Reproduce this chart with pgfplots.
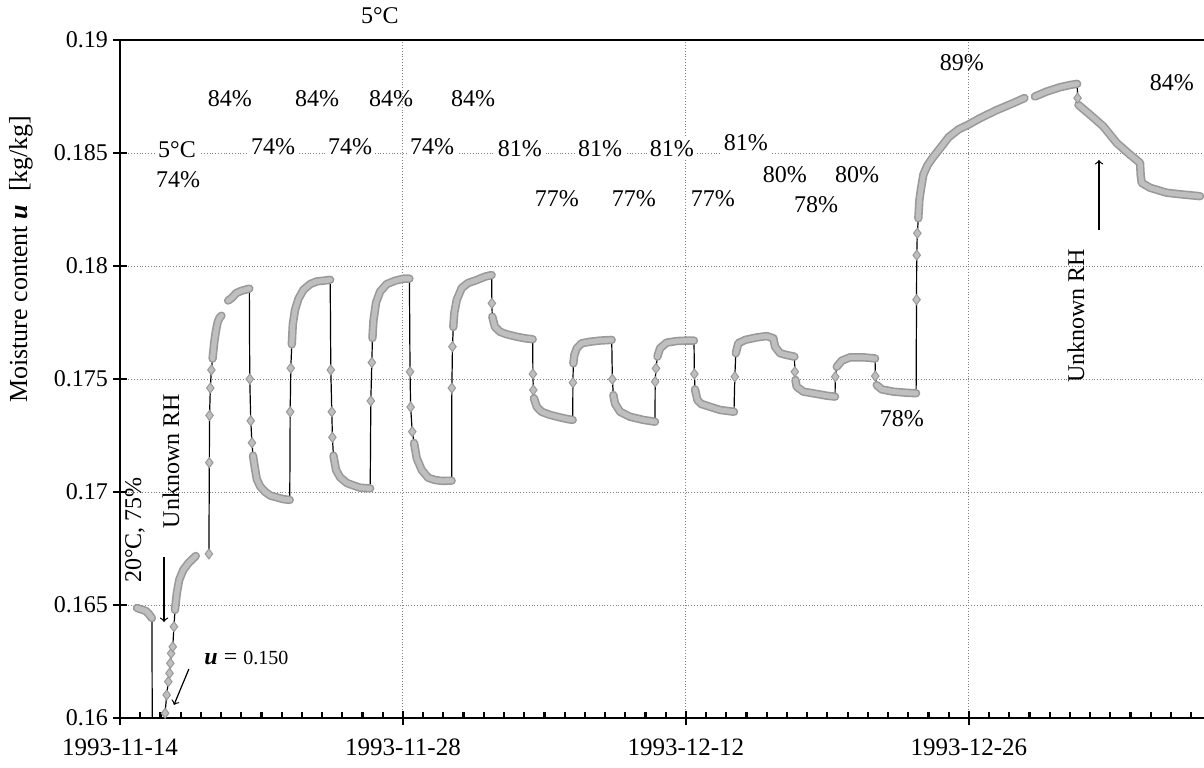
\documentclass[border=0pt]{standalone}
\usepackage{fontspec}
\setmainfont{Liberation Serif}
\usepackage{pgfplots}
\usepackage{pgfplotstable}
\pgfplotsset{compat=1.18}
\newcommand\fs{\fontsize{12}{14}\selectfont}
\tikzset{
  lab/.style={font=\fs, inner sep=1pt},
  labw/.style={font=\fs, inner sep=1.5pt, fill=white},
}
% day (0 = 1993-11-14), u, band value, marker value
\pgfplotstableread{
x y b m
0.84 0.16487 0.16487 nan
0.99 0.16482 0.16482 nan
1.14 0.16478 0.16478 nan
1.29 0.16473 0.16473 nan
1.43 0.16460 0.16460 nan
1.58 0.16442 0.16442 nan
1.63 0.150 nan nan
2.23 0.16021 nan 0.16021
2.31 0.16102 nan 0.16102
2.39 0.16161 nan 0.16161
2.45 0.16198 nan 0.16198
2.49 0.16242 nan 0.16242
2.53 0.16286 nan 0.16286
2.61 0.16315 nan 0.16315
2.67 0.16404 nan 0.16404
2.72 0.16478 0.16478 nan
2.81 0.16552 0.16552 nan
2.93 0.16611 0.16611 nan
3.13 0.16655 0.16655 nan
3.38 0.16685 0.16685 nan
3.75 0.16717 0.16717 nan
nan nan nan nan
4.40 0.16726 nan 0.16726
4.42 0.17130 nan 0.17130
4.43 0.17339 nan 0.17339
4.47 0.17460 nan 0.17460
4.52 0.17540 nan 0.17540
4.58 0.17590 0.17590 nan
4.66 0.17660 0.17660 nan
4.74 0.17710 0.17710 nan
4.83 0.17750 0.17750 nan
4.92 0.17770 0.17770 nan
5.02 0.17780 0.17780 nan
nan nan nan nan
5.35 0.17847 0.17847 nan
5.55 0.17860 0.17860 nan
5.75 0.17880 0.17880 nan
6.00 0.17890 0.17890 nan
6.20 0.17895 0.17895 nan
6.40 0.17900 0.17900 nan
6.42 0.17500 nan 0.17500
6.47 0.17315 nan 0.17315
6.53 0.17218 nan 0.17218
6.58 0.17161 0.17161 nan
6.69 0.17097 0.17097 nan
6.77 0.17056 0.17056 nan
6.94 0.17024 0.17024 nan
7.19 0.17000 0.17000 nan
7.44 0.16984 0.16984 nan
7.77 0.16976 0.16976 nan
8.10 0.16968 0.16968 nan
8.40 0.16965 0.16965 nan
8.42 0.17355 nan 0.17355
8.45 0.17548 nan 0.17548
8.50 0.17653 0.17653 nan
8.55 0.17742 0.17742 nan
8.66 0.17806 0.17806 nan
8.83 0.17855 0.17855 nan
9.08 0.17895 0.17895 nan
9.41 0.17920 0.17920 nan
9.74 0.17932 0.17932 nan
10.07 0.17935 0.17935 nan
10.40 0.17939 0.17939 nan
10.43 0.17540 nan 0.17540
10.48 0.17355 nan 0.17355
10.51 0.17242 nan 0.17242
10.56 0.17161 0.17161 nan
10.69 0.17097 0.17097 nan
10.89 0.17065 0.17065 nan
11.22 0.17040 0.17040 nan
11.55 0.17029 0.17029 nan
11.88 0.17019 0.17019 nan
12.38 0.17016 0.17016 nan
12.41 0.17403 nan 0.17403
12.46 0.17573 nan 0.17573
12.49 0.17681 0.17681 nan
12.54 0.17758 0.17758 nan
12.67 0.17839 0.17839 nan
12.87 0.17887 0.17887 nan
13.20 0.17920 0.17920 nan
13.61 0.17935 0.17935 nan
14.03 0.17944 0.17944 nan
14.32 0.17944 0.17944 nan
14.35 0.17532 nan 0.17532
14.38 0.17376 nan 0.17376
14.46 0.17267 nan 0.17267
14.55 0.17217 0.17217 nan
14.68 0.17150 0.17150 nan
14.93 0.17097 0.17097 nan
15.25 0.17063 0.17063 nan
15.59 0.17053 0.17053 nan
15.92 0.17049 0.17049 nan
16.41 0.17050 0.17050 nan
16.42 0.17460 nan 0.17460
16.45 0.17643 nan 0.17643
16.49 0.17730 0.17730 nan
16.54 0.17792 0.17792 nan
16.66 0.17850 0.17850 nan
16.91 0.17903 0.17903 nan
17.23 0.17925 0.17925 nan
17.65 0.17938 0.17938 nan
18.06 0.17953 0.17953 nan
18.39 0.17960 0.17960 nan
18.40 0.17835 nan 0.17835
18.42 0.17776 0.17776 nan
18.55 0.17731 0.17731 nan
18.80 0.17709 0.17709 nan
19.13 0.17698 0.17698 nan
19.63 0.17687 0.17687 nan
20.04 0.17680 0.17680 nan
20.42 0.17676 0.17676 nan
20.43 0.17522 nan 0.17522
20.45 0.17451 nan 0.17451
20.48 0.17415 0.17415 nan
20.62 0.17377 0.17377 nan
20.86 0.17355 0.17355 nan
21.28 0.17341 0.17341 nan
21.77 0.17330 0.17330 nan
22.18 0.17322 0.17322 nan
22.40 0.17319 0.17319 nan
22.41 0.17484 nan 0.17484
22.43 0.17569 0.17569 nan
22.48 0.17606 0.17606 nan
22.60 0.17636 0.17636 nan
22.84 0.17658 0.17658 nan
23.26 0.17665 0.17665 nan
23.75 0.17670 0.17670 nan
24.33 0.17673 0.17673 nan
24.36 0.17499 nan 0.17499
24.41 0.17429 0.17429 nan
24.49 0.17392 0.17392 nan
24.74 0.17355 0.17355 nan
25.23 0.17333 0.17333 nan
25.89 0.17319 0.17319 nan
26.47 0.17311 0.17311 nan
26.48 0.17488 nan 0.17488
26.52 0.17547 nan 0.17547
26.59 0.17599 0.17599 nan
26.72 0.17636 0.17636 nan
27.05 0.17661 0.17661 nan
27.55 0.17668 0.17668 nan
28.04 0.17670 0.17670 nan
28.40 0.17670 0.17670 nan
28.42 0.17522 nan 0.17522
28.45 0.17454 0.17454 nan
28.57 0.17407 0.17407 nan
28.75 0.17390 0.17390 nan
29.19 0.17377 0.17377 nan
29.69 0.17363 0.17363 nan
30.38 0.17355 0.17355 nan
30.42 0.17510 nan 0.17510
30.47 0.17614 0.17614 nan
30.59 0.17658 0.17658 nan
30.93 0.17673 0.17673 nan
31.50 0.17684 0.17684 nan
32.00 0.17690 0.17690 nan
32.33 0.17680 0.17680 nan
32.41 0.17643 0.17643 nan
32.66 0.17614 0.17614 nan
32.99 0.17606 0.17606 nan
33.37 0.17599 0.17599 nan
33.39 0.17532 nan 0.17532
33.42 0.17496 0.17496 nan
33.48 0.17466 0.17466 nan
33.81 0.17444 0.17444 nan
34.47 0.17434 0.17434 nan
34.97 0.17426 0.17426 nan
35.38 0.17422 0.17422 nan
35.39 0.17510 nan 0.17510
35.46 0.17554 0.17554 nan
35.71 0.17581 0.17581 nan
36.12 0.17596 0.17596 nan
36.78 0.17596 0.17596 nan
37.36 0.17591 0.17591 nan
37.37 0.17513 nan 0.17513
37.44 0.17473 0.17473 nan
37.69 0.17454 0.17454 nan
38.26 0.17444 0.17444 nan
38.93 0.17439 0.17439 nan
39.39 0.17437 0.17437 nan
39.41 0.17851 nan 0.17851
39.42 0.18048 nan 0.18048
39.45 0.18145 nan 0.18145
39.50 0.18211 0.18211 nan
39.55 0.18290 0.18290 nan
39.62 0.18335 0.18335 nan
39.75 0.18405 0.18405 nan
39.95 0.18445 0.18445 nan
40.20 0.18478 0.18478 nan
40.57 0.18520 0.18520 nan
41.00 0.18570 0.18570 nan
41.50 0.18605 0.18605 nan
41.97 0.18625 0.18625 nan
42.55 0.18654 0.18654 nan
43.38 0.18690 0.18690 nan
44.20 0.18721 0.18721 nan
44.75 0.18743 0.18743 nan
nan nan nan nan
45.27 0.18750 0.18750 nan
45.85 0.18772 0.18772 nan
46.51 0.18791 0.18791 nan
47.01 0.18801 0.18801 nan
47.36 0.18806 0.18806 nan
47.38 0.18743 nan 0.18743
47.42 0.18713 0.18713 nan
48.00 0.18669 0.18669 nan
48.65 0.18618 0.18618 nan
49.32 0.18544 0.18544 nan
49.97 0.18493 0.18493 nan
50.47 0.18456 0.18456 nan
50.50 0.18404 0.18404 nan
50.55 0.18368 0.18368 nan
50.97 0.18346 0.18346 nan
51.79 0.18324 0.18324 nan
52.61 0.18316 0.18316 nan
53.44 0.18309 0.18309 nan
}\moist
\begin{document}
\begin{tikzpicture}
\begin{axis}[
  scale only axis, width=546pt, height=339pt,
  xmin=0, xmax=54.03, ymin=0.16, ymax=0.19,
  clip mode=individual,
  axis line style={line width=1.3pt},
  tick style={black, line width=1.1pt},
  tick align=center, major tick length=7pt,
  xtick pos=bottom, ytick pos=left,
  xtick={0,14,28,42},
  xticklabels={1993-11-14,1993-11-28,1993-12-12,1993-12-26},
  xticklabel style={font=\fontsize{12.5}{14}\selectfont, yshift=-3.5pt},
  extra x ticks={1,2,3,4,5,6,7,8,9,10,11,12,13,15,16,17,18,19,20,21,22,23,24,25,26,27,29,30,31,32,33,34,35,36,37,38,39,40,41,43,44,45,46,47,48,49,50,51,52,53},
  extra x tick labels={},
  extra x tick style={grid=none, tick align=inside, major tick length=3.2pt},
  ytick={0.16,0.165,0.17,0.175,0.18,0.185,0.19},
  yticklabels={0.16,0.165,0.17,0.175,0.18,0.185,0.19},
  yticklabel style={font=\fs, xshift=1pt},
  xmajorgrids, ymajorgrids,
  major grid style={densely dotted, gray, line width=0.5pt},
  unbounded coords=jump,
]
\addplot[black, line width=0.6pt, mark=none] table[x=x,y=y]{\moist};
\addplot[gray!80, line width=4.2pt, line cap=round, line join=round, mark=none] table[x=x,y=b]{\moist};
\addplot[gray!50, line width=2.6pt, line cap=round, line join=round, mark=none] table[x=x,y=b]{\moist};
\addplot[only marks, mark=diamond*, mark size=2.5pt, mark options={fill=gray!50, draw=gray!80, line width=0.5pt}] table[x=x,y=m]{\moist};

\coordinate (SW) at (rel axis cs:0,0);
% annotations
\node[lab] at (axis cs:12.86,0.19106) {5°C};
\node[labw] at (axis cs:2.82,0.18513) {5°C};
\node[lab] at (axis cs:2.87,0.18381) {74\%};
\node[lab] at (axis cs:5.44,0.18739) {84\%};
\node[lab] at (axis cs:9.75,0.18739) {84\%};
\node[lab] at (axis cs:13.41,0.18739) {84\%};
\node[lab] at (axis cs:17.47,0.18739) {84\%};
\node[labw] at (axis cs:7.57,0.18527) {74\%};
\node[labw] at (axis cs:11.38,0.18527) {74\%};
\node[labw] at (axis cs:15.44,0.18527) {74\%};
\node[labw] at (axis cs:19.79,0.18518) {81\%};
\node[labw] at (axis cs:23.75,0.18518) {81\%};
\node[labw] at (axis cs:27.31,0.18518) {81\%};
\node[labw] at (axis cs:30.97,0.18544) {81\%};
\node[lab] at (axis cs:21.62,0.18296) {77\%};
\node[lab] at (axis cs:25.43,0.18296) {77\%};
\node[lab] at (axis cs:29.34,0.18296) {77\%};
\node[lab] at (axis cs:32.90,0.18403) {80\%};
\node[lab] at (axis cs:36.47,0.18403) {80\%};
\node[lab] at (axis cs:34.44,0.18270) {78\%};
\node[lab] at (axis cs:38.69,0.17323) {78\%};
\node[lab] at (axis cs:41.66,0.18898) {89\%};
\node[lab] at (axis cs:52.05,0.18810) {84\%};
\node[lab, rotate=90] at (axis cs:47.30,0.17779) {Unknown RH};
\draw[->, line width=0.6pt] (axis cs:48.44,0.18159) -- (axis cs:48.44,0.18469);
\node[lab, rotate=90] at (axis cs:2.52,0.17137) {Unknown RH};
\node[lab, rotate=90] at (axis cs:0.74,0.16832) {20°C, 75\%};
\draw[->, line width=0.6pt] (axis cs:2.18,0.16712) -- (axis cs:2.18,0.16425);
\node[lab, anchor=west] at (axis cs:4.06,0.16265) {\textbf{\textit{u}} = {\fontsize{10}{12}\selectfont 0.150}};
\draw[->, line width=0.6pt] (axis cs:3.41,0.16217) -- (axis cs:2.67,0.16058);
\end{axis}
\node[rotate=90, anchor=east, inner sep=0pt, font=\fontsize{13}{15}\selectfont] at ([xshift=-49.5pt, yshift=301.5pt]SW) {Moisture content \textbf{\textit{u}}\ \ [kg/kg]};
\pgfresetboundingbox
\useasboundingbox ([shift={(-60pt,-24.5pt)}]SW) rectangle ([shift={(542pt,359pt)}]SW);
\end{tikzpicture}
\end{document}
